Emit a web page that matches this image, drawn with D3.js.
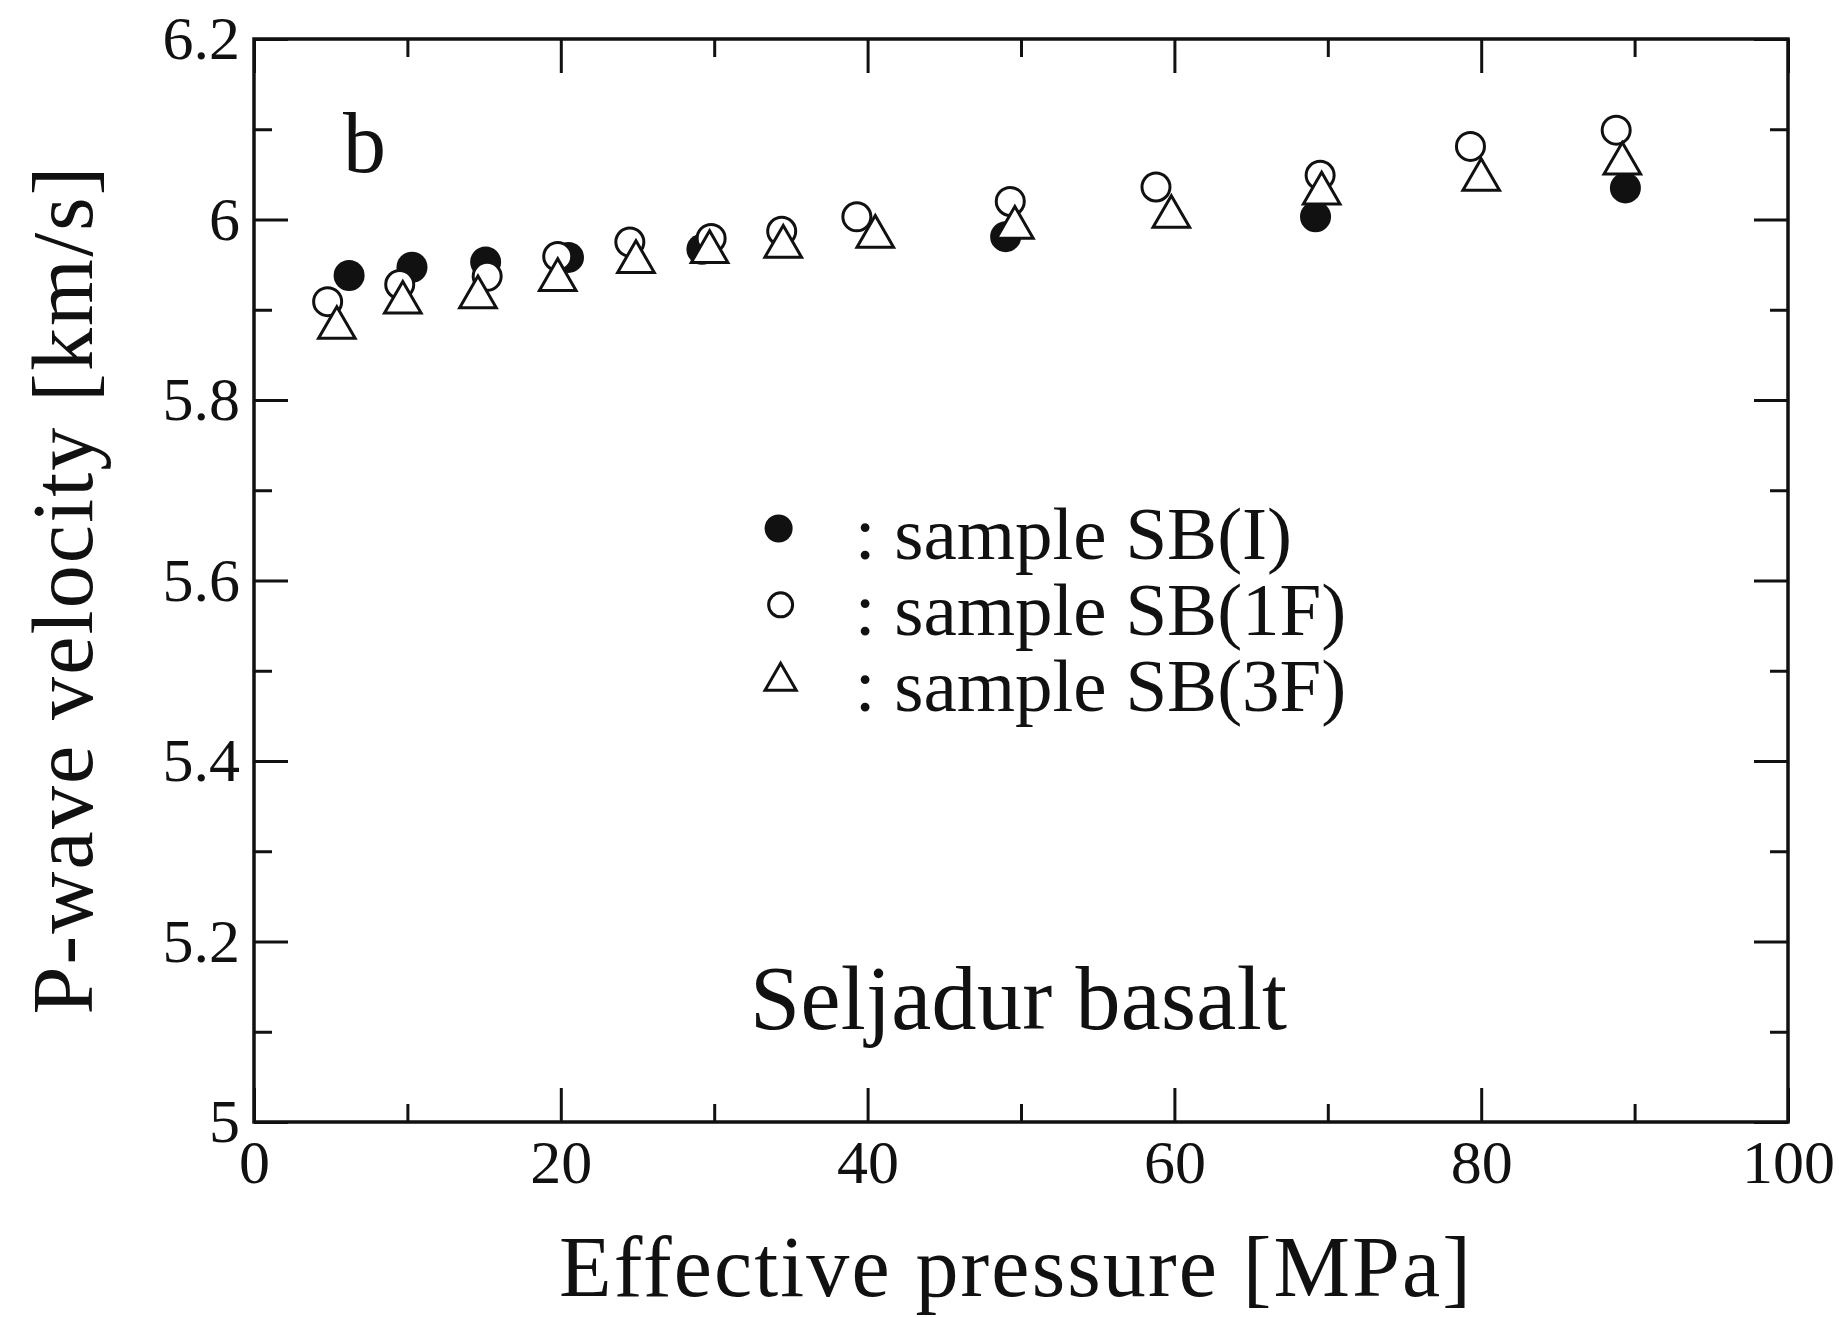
<!DOCTYPE html>
<html>
<head>
<meta charset="utf-8">
<script src="https://cdn.jsdelivr.net/npm/d3@7"></script>
<style>
  body { margin: 0; background: #fff; }
  text { font-family: "Liberation Serif", "DejaVu Serif", serif; fill: #111; }
</style>
</head>
<body>
<script>
// series
const sbIx = [6.2, 10.3, 15.1, 20.5, 29.2, 49.0, 69.2, 89.4];
const sbIy = [5.938, 5.947, 5.953, 5.958, 5.967, 5.981, 6.003, 6.035];

const sb1Fx = [4.8, 9.5, 15.2, 19.8, 24.5, 29.8, 34.4, 39.3, 49.3, 58.8, 69.5, 79.3, 88.8];
const sb1Fy = [5.909, 5.928, 5.937, 5.959, 5.975, 5.979, 5.987, 6.003, 6.020, 6.036, 6.049, 6.081, 6.099];

const sb3Fx = [5.4, 9.7, 14.6, 19.8, 24.9, 29.7, 34.5, 40.5, 49.6, 59.8, 69.6, 80.0, 89.2];
const sb3Fy = [5.880, 5.908, 5.914, 5.933, 5.953, 5.964, 5.970, 5.981, 5.991, 6.003, 6.029, 6.044, 6.062];

const xMajor = [0, 20, 40, 60, 80, 100];
const xMinor = [10, 30, 50, 70, 90];
const yMajor = [5, 5.2, 5.4, 5.6, 5.8, 6, 6.2];
const yMinor = [5.1, 5.3, 5.5, 5.7, 5.9, 6.1];

const legendLabels = [": sample SB(I)", ": sample SB(1F)", ": sample SB(3F)"];

const width = 1839;
const height = 1317;
const margin = {top: 39, right: 51, bottom: 195, left: 254};

const svg = d3.select('body')
  .append('svg')
  .attr('width', width)
  .attr('height', height);

svg.append('rect').attr('width', width).attr('height', height).attr('fill', '#fff');

const iw = width - margin.left - margin.right;
const ih = height - margin.top - margin.bottom;

const g = svg.append('g')
  .attr('transform', `translate(${margin.left},${margin.top})`);

const x = d3.scaleLinear().domain([0, 100]).range([0, iw]);
const y = d3.scaleLinear().domain([5, 6.2]).range([ih, 0]);

const majorLen = 34, minorLen = 18;

function styleAxis(sel) {
  sel.select('.domain').remove();
  sel.selectAll('line').attr('stroke', '#111').attr('stroke-width', 3);
  sel.selectAll('text').style('font-family', '"Liberation Serif", serif').attr('fill', '#111');
}

// bottom
g.append('g').attr('transform', `translate(0,${ih})`)
  .call(d3.axisBottom(x).tickValues(xMajor).tickSize(-majorLen).tickPadding(17)
    .tickFormat(d3.format('d')))
  .call(styleAxis)
  .call(s => s.selectAll('text').attr('font-size', 62));
g.append('g').attr('transform', `translate(0,${ih})`)
  .call(d3.axisBottom(x).tickValues(xMinor).tickSize(-minorLen).tickFormat(''))
  .call(styleAxis);
// top
g.append('g')
  .call(d3.axisTop(x).tickValues(xMajor).tickSize(-majorLen).tickFormat(''))
  .call(styleAxis);
g.append('g')
  .call(d3.axisTop(x).tickValues(xMinor).tickSize(-minorLen).tickFormat(''))
  .call(styleAxis);
// left
g.append('g')
  .call(d3.axisLeft(y).tickValues(yMajor).tickSize(-majorLen).tickPadding(14)
    .tickFormat(d => d3.format('~g')(d)))
  .call(styleAxis)
  .call(s => s.selectAll('text').attr('font-size', 62));
g.append('g')
  .call(d3.axisLeft(y).tickValues(yMinor).tickSize(-minorLen).tickFormat(''))
  .call(styleAxis);
// right
g.append('g').attr('transform', `translate(${iw},0)`)
  .call(d3.axisRight(y).tickValues(yMajor).tickSize(-majorLen).tickFormat(''))
  .call(styleAxis);
g.append('g').attr('transform', `translate(${iw},0)`)
  .call(d3.axisRight(y).tickValues(yMinor).tickSize(-minorLen).tickFormat(''))
  .call(styleAxis);

// frame
g.append('rect')
  .attr('width', iw).attr('height', ih)
  .attr('fill', 'none').attr('stroke', '#111').attr('stroke-width', 3.5);

// markers
const r = 14;
const tri = d3.symbol().type(d3.symbolTriangle).size(580);

const dataI = sbIx.map((v, i) => ({x: v, y: sbIy[i]}));
const data1F = sb1Fx.map((v, i) => ({x: v, y: sb1Fy[i]}));
const data3F = sb3Fx.map((v, i) => ({x: v, y: sb3Fy[i]}));

g.selectAll('.sbI')
  .data(dataI)
  .enter().append('circle')
  .attr('class', 'sbI')
  .attr('cx', d => x(d.x)).attr('cy', d => y(d.y))
  .attr('r', r + 1.5)
  .attr('fill', '#111');

g.selectAll('.sb1F')
  .data(data1F)
  .enter().append('circle')
  .attr('class', 'sb1F')
  .attr('cx', d => x(d.x)).attr('cy', d => y(d.y))
  .attr('r', r)
  .attr('fill', '#fff').attr('stroke', '#111').attr('stroke-width', 3);

g.selectAll('.sb3F')
  .data(data3F)
  .enter().append('path')
  .attr('class', 'sb3F')
  .attr('transform', d => `translate(${x(d.x)},${y(d.y)})`)
  .attr('d', tri)
  .attr('fill', '#fff').attr('stroke', '#111').attr('stroke-width', 3)
  .attr('stroke-linejoin', 'miter');

// legend
const lx = iw * 0.342, ly0 = ih * 0.452, lstep = ih * 0.0705;
const leg = g.append('g');
leg.append('circle').attr('cx', lx).attr('cy', ly0).attr('r', r).attr('fill', '#111');
leg.append('circle').attr('cx', lx + 2).attr('cy', ly0 + lstep).attr('r', r - 2)
  .attr('fill', '#fff').attr('stroke', '#111').attr('stroke-width', 3);
leg.append('path').attr('transform', `translate(${lx + 2},${ly0 + 2 * lstep})`)
  .attr('d', d3.symbol().type(d3.symbolTriangle).size(420))
  .attr('fill', '#fff').attr('stroke', '#111').attr('stroke-width', 3);
leg.selectAll('.legtext')
  .data(legendLabels)
  .enter().append('text')
  .attr('class', 'legtext')
  .attr('x', lx + 76)
  .attr('y', (d, i) => ly0 + i * lstep + 30)
  .attr('font-size', 75)
  .text(d => d);

// annotations
g.append('text').attr('x', 89).attr('y', 133).attr('font-size', 86).text('b');
g.append('text').attr('x', 496).attr('y', 990).attr('font-size', 90)
  .attr('textLength', 537).text('Seljadur basalt');

// axis titles
svg.append('text')
  .attr('x', margin.left + iw / 2 - 6).attr('y', 1296)
  .attr('text-anchor', 'middle').attr('font-size', 86)
  .attr('textLength', 912).attr('lengthAdjust', 'spacing')
  .text('Effective pressure [MPa]');
svg.append('text')
  .attr('transform', `translate(92,${margin.top + ih / 2 + 10}) rotate(-90)`)
  .attr('text-anchor', 'middle').attr('font-size', 86)
  .attr('textLength', 848).attr('lengthAdjust', 'spacing')
  .text('P-wave velocity [km/s]');
</script>
</body>
</html>
